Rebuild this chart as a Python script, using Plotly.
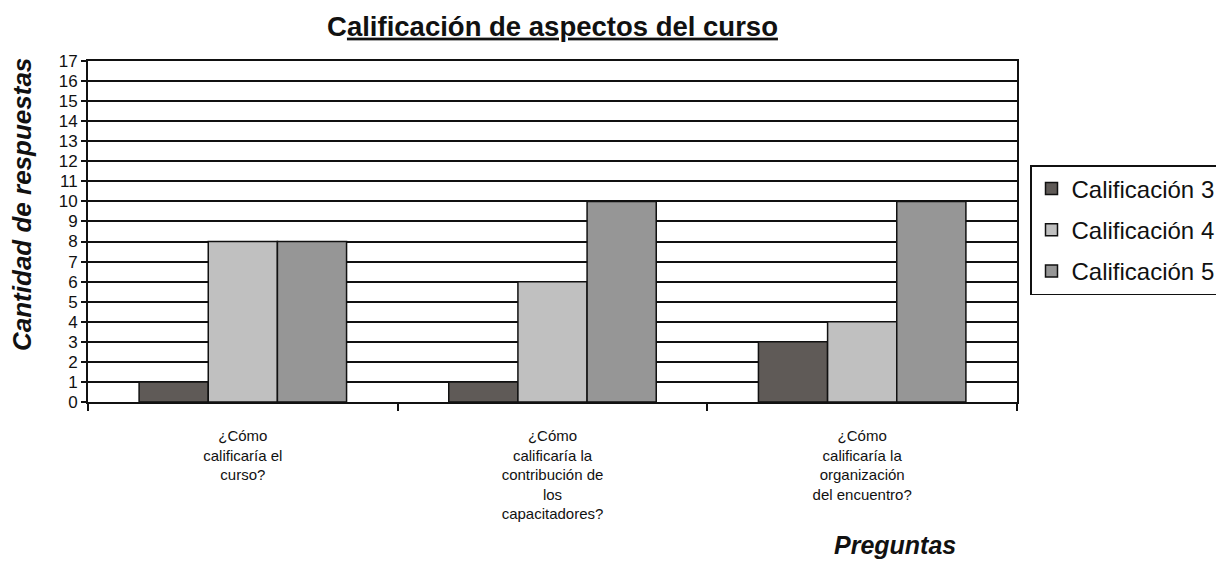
import plotly.graph_objects as go

categories = [
    "¿Cómo<br>calificaría el<br>curso?",
    "¿Cómo<br>calificaría la<br>contribución de<br>los<br>capacitadores?",
    "¿Cómo<br>calificaría la<br>organización<br>del encuentro?",
]
series_names = ["Calificación 3", "Calificación 4", "Calificación 5"]
calif3 = [1, 1, 3]
calif4 = [8, 6, 4]
calif5 = [8, 10, 10]
colors = ["#5f5a57", "#c0c0c0", "#969696"]
y_ticks = list(range(0, 18))

fig = go.Figure()
for name, vals, col in zip(series_names, [calif3, calif4, calif5], colors):
    fig.add_trace(go.Bar(
        x=categories, y=vals, name=name, legendgroup=name,
        marker=dict(color=col, line=dict(color="#111111", width=1.5)),
    ))

font = "Liberation Sans, Arial, sans-serif"
# page renders with an 8px body offset, so margins are reduced accordingly
L, R, T, B = 80, 215, 53, 167
W, H = 1224, 561
plot_w = W - L - R
plot_h = H - T - B

fig.update_layout(
    width=W, height=H,
    barmode="group", bargap=0.33, bargroupgap=0,
    plot_bgcolor="white", paper_bgcolor="white",
    margin=dict(l=L, r=R, t=T, b=B, autoexpand=False),
    font=dict(family=font, color="#111111"),
    title=dict(
        text="<b>C<u>alificación de aspectos del curso</u></b>",
        x=0.5, xref="paper", xanchor="center",
        y=1 - 18 / H, yanchor="middle", yref="container",
        font=dict(size=27.5, family=font, color="#111111"),
    ),
    xaxis=dict(
        showline=True, linecolor="#111111", linewidth=2, mirror=True,
        ticks="outside", tickson="boundaries", ticklen=7, tickcolor="#111111", tickwidth=1.5,
        tickfont=dict(size=15, family=font, color="#111111"),
        ticklabelstandoff=19,
        showgrid=False, tickangle=0,
    ),
    yaxis=dict(
        range=[0, 17], tickvals=y_ticks, ticktext=[str(v) for v in y_ticks],
        showline=True, linecolor="#111111", linewidth=2, mirror=True,
        ticks="outside", ticklen=5, tickcolor="#111111", tickwidth=1.5,
        showgrid=True, gridcolor="#111111", gridwidth=1.5,
        zeroline=False,
        tickfont=dict(size=17, family=font, color="#111111"),
    ),
    legend=dict(
        x=(1030 - 8 - L) / plot_w, xanchor="left",
        y=(H - B - (165 - 8)) / plot_h, yanchor="top",
        bordercolor="#111111", borderwidth=1.5, bgcolor="white",
        font=dict(size=24, family=font, color="#111111"),
        itemwidth=30, traceorder="grouped", tracegroupgap=7,
    ),
)
fig.add_annotation(
    text="<b><i>Cantidad de respuestas</i></b>", xref="paper", yref="paper",
    x=-(L - (22 - 8)) / plot_w, y=(H - B - (205 - 8)) / plot_h,
    xanchor="center", yanchor="middle", textangle=-90,
    showarrow=False, font=dict(size=26, family=font, color="#111111"),
)
fig.add_annotation(
    text="<b><i>Preguntas</i></b>", xref="paper", yref="paper",
    x=(958 - 8 - L) / plot_w, y=-((545 - 8) - (H - B)) / plot_h,
    xanchor="right", yanchor="middle",
    showarrow=False, font=dict(size=25, family=font, color="#111111"),
)

fig.write_html("out.html")
